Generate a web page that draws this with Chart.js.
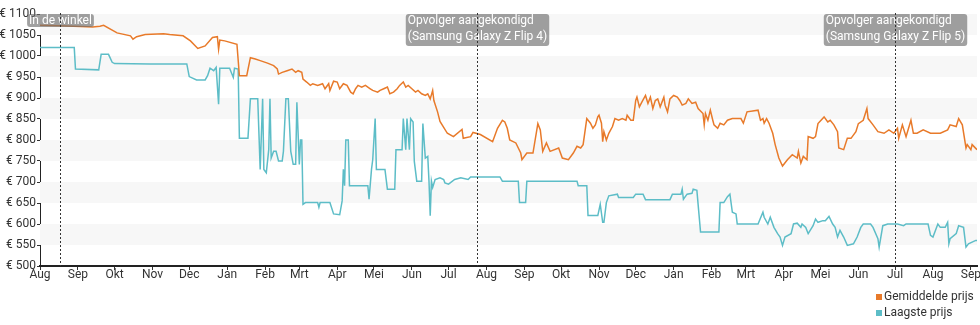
<!DOCTYPE html>
<html>
<head>
<meta charset="utf-8">
<script src="https://cdn.jsdelivr.net/npm/chart.js@4.4.1/dist/chart.umd.min.js"></script>
<style>
  html, body { margin: 0; padding: 0; background: #fff; }
  #wrap { width: 980px; height: 325px; position: relative; }
</style>
</head>
<body>
<div id="wrap"><canvas id="priceChart" width="980" height="325"></canvas></div>
<script>
// dagen sinds 1 aug 2021
const avgDays = [
    0, 16, 33, 43, 49, 52, 63, 74, 76, 79,
    86, 101, 106, 117, 123, 129, 135, 141, 145, 146,
    147, 151, 161, 163, 169, 172, 176, 180, 186, 191,
    194, 195, 198, 202, 206, 209, 211, 214, 215, 218,
    221, 223, 227, 231, 233, 236, 237, 240, 243, 245,
    248, 251, 254, 256, 258, 260, 263, 266, 270, 272,
    276, 278, 281, 284, 286, 289, 292, 294, 297, 299,
    301, 304, 307, 309, 312, 315, 317, 319, 321, 322,
    325, 327, 333, 338, 345, 346, 352, 354, 360, 370,
    374, 378, 380, 382, 384, 389, 393, 394, 398, 403,
    407, 409, 411, 414, 417, 424, 427, 432, 436, 439,
    442, 444, 447, 450, 452, 454, 456, 457, 459, 460,
    461, 463, 465, 468, 470, 473, 476, 479, 480, 483,
    485, 487, 488, 490, 492, 495, 497, 499, 501, 503,
    505, 507, 510, 511, 513, 515, 518, 521, 523, 525,
    528, 530, 533, 536, 538, 542, 543, 544, 546, 548,
    550, 551, 554, 556, 559, 562, 566, 573, 575, 578,
    587, 589, 591, 592, 594, 596, 599, 601, 604, 607,
    611, 615, 619, 620, 622, 624, 627, 628, 632, 634,
    636, 641, 644, 646, 649, 652, 653, 657, 660, 663,
    667, 669, 673, 676, 677, 681, 685, 690, 694, 698,
    701, 702, 705, 708, 712, 714, 717, 722, 728, 736,
    742, 744, 749, 751, 754, 757, 758, 761, 762, 766
];
const avgPrices = [
    1073, 1072, 1070, 1069, 1071, 1073, 1055, 1048, 1040, 1046,
    1051, 1053, 1051, 1048, 1036, 1018, 1024, 1044, 1046, 1016,
    1038, 1036, 1028, 953, 953, 996, 993, 989, 983, 977,
    969, 957, 961, 965, 969, 961, 965, 961, 945, 938,
    930, 934, 930, 934, 922, 934, 918, 940, 938, 922,
    934, 930, 914, 910, 922, 930, 926, 930, 922, 918,
    914, 918, 922, 926, 910, 914, 922, 930, 938, 926,
    930, 922, 914, 918, 910, 906, 910, 898, 918, 894,
    867, 844, 816, 808, 825, 804, 808, 818, 813, 796,
    828, 847, 843, 828, 800, 793, 769, 753, 769, 769,
    839, 824, 773, 793, 773, 781, 757, 753, 769, 785,
    781, 789, 851, 840, 828, 836, 855, 859, 840, 796,
    820, 800, 816, 832, 851, 847, 851, 847, 859, 847,
    847, 894, 902, 879, 890, 906, 887, 902, 875, 894,
    898, 879, 902, 883, 867, 898, 906, 902, 894, 883,
    887, 898, 887, 890, 875, 863, 836, 863, 847, 871,
    847, 836, 828, 840, 836, 847, 851, 851, 840, 867,
    871, 847, 851, 840, 851, 840, 816, 789, 757, 738,
    753, 765, 757, 773, 745, 761, 753, 808, 804, 808,
    839, 855, 843, 847, 836, 820, 781, 777, 804, 804,
    820, 839, 847, 875, 851, 836, 820, 816, 824, 816,
    828, 804, 836, 808, 847, 816, 816, 824, 816, 816,
    824, 836, 832, 851, 836, 781, 789, 777, 789, 777
];
const lowDays = [
    0, 28, 29, 48, 50, 56, 59, 61, 90, 120,
    122, 128, 135, 137, 139, 142, 144, 146, 147, 155,
    158, 159, 162, 163, 170, 172, 178, 180, 182, 183,
    185, 187, 188, 189, 191, 193, 195, 198, 199, 201,
    203, 205, 207, 209, 210, 212, 213, 214, 215, 217,
    227, 228, 229, 237, 240, 245, 247, 248, 249, 250,
    252, 253, 268, 269, 271, 272, 274, 275, 282, 284,
    290, 291, 296, 297, 299, 300, 302, 303, 305, 306,
    308, 312, 313, 315, 317, 318, 319, 320, 321, 323,
    327, 330, 331, 334, 339, 344, 350, 352, 376, 378,
    391, 392, 397, 398, 439, 440, 447, 448, 456, 458,
    460, 461, 463, 465, 472, 473, 485, 487, 493, 495,
    515, 517, 524, 525, 526, 529, 533, 534, 537, 540,
    555, 556, 559, 562, 564, 566, 569, 570, 587, 591,
    592, 595, 597, 600, 603, 605, 607, 609, 614, 616,
    619, 622, 623, 626, 628, 632, 634, 636, 640, 642,
    645, 648, 650, 652, 654, 657, 660, 665, 668, 671,
    673, 679, 681, 685, 686, 689, 693, 701, 706, 708,
    726, 728, 730, 734, 736, 740, 742, 743, 744, 749,
    751, 755, 757, 759, 762, 765, 766
];
const lowPrices = [
    1020, 1020, 969, 967, 1004, 1004, 985, 982, 981, 981,
    951, 943, 943, 953, 971, 965, 973, 885, 971, 971,
    949, 971, 969, 804, 804, 898, 898, 730, 898, 730,
    722, 777, 898, 757, 773, 773, 750, 750, 773, 898,
    898, 773, 742, 742, 890, 742, 800, 800, 647, 651,
    651, 640, 651, 651, 624, 622, 655, 730, 691, 800,
    800, 691, 691, 659, 730, 753, 851, 730, 730, 683,
    683, 777, 777, 851, 777, 851, 777, 851, 843, 749,
    702, 702, 839, 757, 761, 702, 620, 702, 687, 706,
    710, 706, 698, 695, 706, 710, 706, 712, 712, 702,
    702, 651, 651, 702, 702, 691, 691, 620, 620, 647,
    604, 604, 651, 667, 671, 663, 663, 671, 671, 658,
    658, 671, 671, 683, 659, 671, 673, 683, 680, 581,
    581, 651, 651, 665, 671, 628, 624, 600, 600, 628,
    616, 600, 616, 592, 577, 569, 549, 569, 577, 600,
    602, 592, 600, 592, 577, 596, 612, 604, 608, 608,
    618, 600, 592, 569, 585, 569, 549, 553, 569, 592,
    600, 600, 592, 565, 545, 596, 600, 600, 596, 600,
    600, 573, 569, 600, 592, 592, 604, 553, 565, 577,
    596, 592, 545, 553, 557, 561, 561
];

// maandlabels op de x-as
const monthTicks = [0, 31, 61, 92, 122, 153, 184, 212, 243, 273, 304, 334, 365,
    396, 426, 457, 487, 518, 549, 577, 608, 638, 669, 699, 730, 761];
const monthLabels = ['Aug', 'Sep', 'Okt', 'Nov', 'Dec', 'Jan', 'Feb', 'Mrt', 'Apr', 'Mei', 'Jun', 'Jul', 'Aug',
    'Sep', 'Okt', 'Nov', 'Dec', 'Jan', 'Feb', 'Mrt', 'Apr', 'Mei', 'Jun', 'Jul', 'Aug', 'Sep'];

// gebeurtenissen
const eventDays = [16, 357, 699];
const eventLabels = ['In de winkel', 'Opvolger aangekondigd\n(Samsung Galaxy Z Flip 4)', 'Opvolger aangekondigd\n(Samsung Galaxy Z Flip 5)'];

const seriesNames = ['Gemiddelde prijs', 'Laagste prijs'];
const seriesColors = ['#e87a2a', '#5dbdc7'];

Chart.defaults.font.family = 'Roboto';
Chart.defaults.font.size = 12;
Chart.defaults.color = '#333';

// grijze banden achter de grafiek
const bandsPlugin = {
    id: 'bands',
    beforeDatasetsDraw(chart) {
        const { ctx, chartArea, scales } = chart;
        ctx.save();
        ctx.fillStyle = '#f7f7f7';
        for (let v = 550; v < 1100; v += 100) {
            const top = scales.y.getPixelForValue(v + 50);
            const bottom = scales.y.getPixelForValue(v);
            ctx.fillRect(chartArea.left, top, chartArea.right - chartArea.left, bottom - top);
        }
        ctx.restore();
    }
};

// verticale stippellijnen met labels
const eventsPlugin = {
    id: 'events',
    afterDatasetsDraw(chart) {
        const { ctx, chartArea, scales } = chart;
        ctx.save();
        ctx.font = '12px Roboto';
        eventDays.forEach((d, i) => {
            const x = Math.round(scales.x.getPixelForValue(d)) + 0.5;
            const lines = eventLabels[i].split('\n');
            const w = Math.max(...lines.map(l => ctx.measureText(l).width)) + 4;
            const h = lines.length === 1 ? 13 : lines.length * 16;
            const bx = x - w / 2;
            const by = 14;
            ctx.fillStyle = 'rgba(110,110,110,0.65)';
            ctx.beginPath();
            ctx.roundRect(bx, by, w, h, 3);
            ctx.fill();
            ctx.fillStyle = '#fff';
            ctx.textBaseline = 'alphabetic';
            lines.forEach((l, j) => ctx.fillText(l, bx + 2, by + 10 + j * 16));

            ctx.strokeStyle = '#333';
            ctx.lineWidth = 1;
            ctx.setLineDash([2, 2]);
            ctx.beginPath();
            ctx.moveTo(x, chartArea.top - 1);
            ctx.lineTo(x, chartArea.bottom);
            ctx.stroke();
            ctx.setLineDash([]);
        });
        ctx.restore();
    }
};

// legenda rechtsonder
const legendPlugin = {
    id: 'cornerLegend',
    afterDraw(chart) {
        const { ctx } = chart;
        ctx.save();
        ctx.font = '12px Roboto';
        ctx.textBaseline = 'middle';
        seriesNames.forEach((name, i) => {
            const y = 297 + i * 16;
            ctx.fillStyle = seriesColors[i];
            ctx.fillRect(876, y - 3, 6, 6);
            ctx.fillStyle = '#333';
            ctx.fillText(name, 884, y);
        });
        ctx.restore();
    }
};

const ctx = document.getElementById('priceChart').getContext('2d');
const priceChart = new Chart(ctx, {
    type: 'line',
    data: {
        datasets: [
            {
                label: seriesNames[0],
                data: avgDays.map((d, i) => ({ x: d, y: avgPrices[i] })),
                borderColor: seriesColors[0],
                borderWidth: 1.5,
                pointRadius: 0,
                tension: 0
            },
            {
                label: seriesNames[1],
                data: lowDays.map((d, i) => ({ x: d, y: lowPrices[i] })),
                borderColor: seriesColors[1],
                borderWidth: 1.5,
                pointRadius: 0,
                tension: 0
            }
        ]
    },
    options: {
        responsive: false,
        animation: false,
        layout: { padding: { top: 14, right: 3, left: 0, bottom: 0 } },
        plugins: {
            legend: { display: false },
            tooltip: { enabled: false }
        },
        scales: {
            x: {
                type: 'linear',
                min: 0,
                max: 766,
                afterBuildTicks: scale => {
                    scale.ticks = monthTicks.map(v => ({ value: v }));
                },
                afterFit: scale => { scale.height = 59; },
                ticks: {
                    autoSkip: false,
                    maxRotation: 0,
                    padding: -2,
                    callback: (v, i) => monthLabels[i]
                },
                grid: { drawOnChartArea: false, tickLength: 4, color: '#333' },
                border: { display: true, color: '#222', width: 2 }
            },
            y: {
                min: 500,
                max: 1100,
                ticks: {
                    stepSize: 50,
                    padding: 1,
                    callback: v => '€ ' + v
                },
                afterFit: scale => { scale.width = 40; },
                grid: { drawOnChartArea: false, tickLength: 3, color: '#333' },
                border: { display: true, color: '#222', width: 1 }
            }
        }
    },
    plugins: [bandsPlugin, eventsPlugin, legendPlugin]
});
</script>
</body>
</html>
